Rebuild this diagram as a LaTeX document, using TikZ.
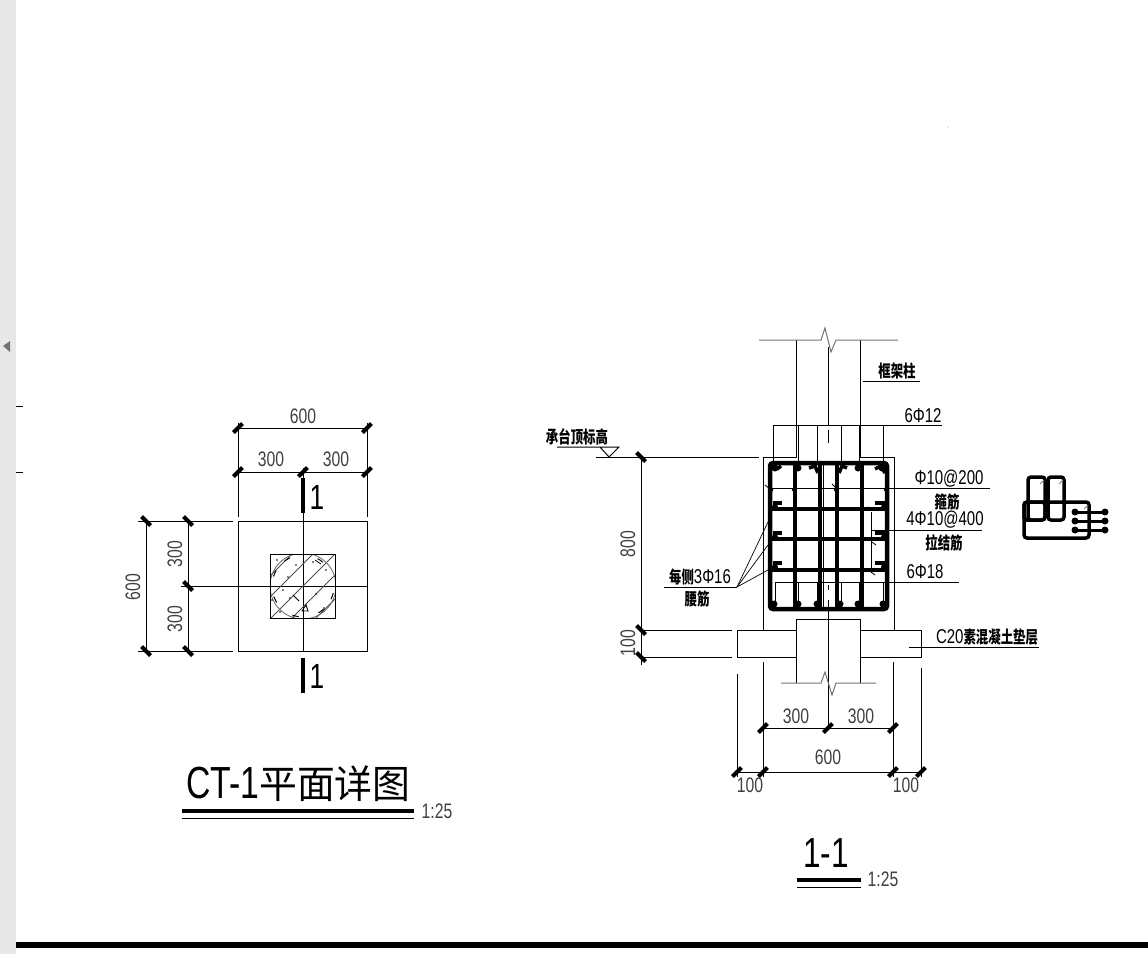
\documentclass[tikz,border=0pt]{standalone}
\usepackage{fontspec}
\setmainfont{Liberation Sans}[FakeStretch=0.75]
\newfontfamily\cjk{Noto Sans CJK SC}[FakeStretch=0.73]
\newfontfamily\cjktitle{Noto Sans CJK SC}[FakeStretch=0.97]
\newcommand{\dimfont}{\fontsize{21}{21}\selectfont}
\newcommand{\notefont}{\fontsize{20}{20}\selectfont}
\newcommand{\cjkfont}{\fontsize{17}{17}\selectfont\cjk\bfseries}
\newcommand{\markfont}{\fontsize{35}{35}\selectfont}
\newcommand{\titlefont}{\fontsize{45}{45}\selectfont}
\newcommand{\cjksize}{\fontsize{39}{39}\selectfont\cjktitle}

\begin{document}
\begin{tikzpicture}[
      x=1pt,y=-1pt,
      every node/.style={inner sep=0pt},
      thinline/.style={line width=1pt},
      graybreak/.style={line width=1pt,draw=black!55},
      hatchline/.style={line width=1pt,draw=black!70},
      xtick/.style={line width=4pt},
      ytick/.style={line width=4pt},
      rebar/.style={line width=4.5pt,rounded corners=3pt},
      sketchbar/.style={line width=3.5pt,rounded corners=3pt},
      vbar/.style={line width=4pt},
      hbar/.style={line width=3.5pt},
      hookbar/.style={line width=3.5pt},
      cutbar/.style={line width=4.5pt},
      dimlabel/.style={font=\dimfont,text=black!75},
      notelabel/.style={font=\notefont},
      cjklabel/.style={font=\cjkfont},
      marklabel/.style={font=\markfont}
      ]
      \useasboundingbox (0,0) rectangle (1148,954);

      %window edge
      \fill[black!9] (0,0) rectangle (16,954);
      \fill[black!55] (3,346) -- (10,341) -- (10,352) -- cycle;
      \draw[thinline] (16,406) -- (23,406);
      \draw[thinline] (16,472) -- (23,472);
      \fill[black] (16,942) rectangle (1148,948);
      \fill[black!60] (948,127) circle (.5pt);

      %plan outline
      \coordinate (plancentre) at (303,586);
      \draw[thinline] (238,521) rectangle (367,651);
      \draw[thinline] (181,586) -- (367,586);
      \draw[thinline] (303,468) -- (303,651);

      %plan column
      \begin{scope}
        \clip (270,554) rectangle (335,618);
        \foreach \d in {-43,-22,0,21,45}
          \draw[hatchline] (270,889-270+\d) -- (335,889-335+\d);
        \draw[line width=.8pt,draw=black!60] (plancentre) circle (33pt);
        \foreach \a in {50,115,150,200,250,300,335}
          \draw[line width=1pt] (plancentre) ++(\a:31pt) arc[start angle=\a,delta angle=12,radius=31pt];
        \foreach \px/\py in {277/560,288/577,296/565,313/562,326/570,280/612,290/598,316/594,324/608,283/590,306/606,272/600}
          \fill (\px,\py) circle (.8pt);
        \draw[line width=.8pt] (293,595) -- (299,601);
        \draw[line width=.8pt] (315,560) -- (321,564);
        \draw[line width=.8pt] (302,611) -- (306,605) -- (308,611) -- cycle;
      \end{scope}
      \draw[thinline] (270,554) rectangle (335,618);

      %plan dimensions
      \draw[thinline] (238,423) -- (238,517);
      \draw[thinline] (367,423) -- (367,517);
      \draw[thinline] (238,428) -- (367,428);
      \draw[thinline] (238,472) -- (367,472);
      \draw[thinline] (138,521) -- (233,521);
      \draw[thinline] (138,651) -- (233,651);
      \draw[thinline] (146,521) -- (146,651);
      \draw[thinline] (188,521) -- (188,651);
      \foreach \x/\y in {238/428,367/428,238/472,303/472,367/472}
        \draw[xtick] (\x,\y) ++(-4.5,4.5) -- ++(9,-9);
      \foreach \x/\y in {146/521,188/521,188/586,146/651,188/651}
        \draw[ytick] (\x,\y) ++(-4.5,-4.5) -- ++(9,9);
      \node[dimlabel] (planwidth) at (303,416) {600};
      \node[dimlabel] (planwidthleft) at (271,459) {300};
      \node[dimlabel] (planwidthright) at (336,459) {300};
      \node[dimlabel,rotate=90] (planheight) at (133,587) {600};
      \node[dimlabel,rotate=90] (planheighttop) at (175,554) {300};
      \node[dimlabel,rotate=90] (planheightbottom) at (175,619) {300};

      %cut marks
      \draw[cutbar] (303,478) -- (303,513);
      \draw[cutbar] (303,658) -- (303,693);
      \node[marklabel] (cuttop) at (317,497) {1};
      \node[marklabel] (cutbottom) at (317,676) {1};

      %plan title
      \node[font=\titlefont,anchor=base west] (plantitle) at (186,798) {CT-1{\cjksize 平面详图}};
      \draw[line width=3.5pt] (182,811) -- (414,811);
      \draw[thinline] (182,818) -- (414,818);
      \node[dimlabel] (planscale) at (437,811) {1:25};

      %section outline
      \draw[thinline] (796,340) -- (796,457) -- (763,457) -- (763,630);
      \draw[thinline] (860,340) -- (860,457) -- (894,457) -- (894,630);
      \draw[thinline] (828,347) -- (828,425);
      \draw[thinline] (828,430) -- (828,443);
      \draw[thinline] (828,585) -- (828,590);
      \draw[thinline] (828,600) -- (828,728);
      \draw[graybreak] (759,340) -- (821,340) -- (825,328) -- (831,352) -- (836,340) -- (898,340);

      %pad and lower column
      \draw[thinline] (796,630) -- (737,630) -- (737,657) -- (796,657);
      \draw[thinline] (860,630) -- (921,630) -- (921,657) -- (860,657);
      \draw[thinline] (796,683) -- (796,619) -- (860,619) -- (860,683);
      \draw[graybreak] (781,683) -- (821,683) -- (825,672) -- (832,695) -- (836,683) -- (876,683);

      %top and bottom anchor bars
      \draw[thinline] (773,425) -- (942,425);
      \foreach \x in {773,798,817,841,859,883}
        \draw[thinline] (\x,425) -- (\x,463);
      \draw[thinline] (775,582) -- (959,582);
      \foreach \x in {775,798,817,841,859,883}
        \draw[thinline] (\x,582) -- (\x,609);

      %cage
      \foreach \x in {795,820,837,862}
        \draw[vbar] (\x,463) -- (\x,609);
      \foreach \y in {509,539,570}
        \draw[hbar] (770,\y) -- (887,\y);
      \draw[rebar] (770,463) rectangle (887,609);
      \foreach \x in {823,835}
        \draw[line width=.8pt] (\x,463) -- (\x,609);

      %bars and hooks
      \foreach \x in {774,798,817,840,858,883}
        \fill (\x,604) circle (3.5pt);
      \foreach \x in {775,798,858,882}
        \fill (\x,468) circle (3.5pt);
      \draw[hookbar] (809,468) -- (815,466) -- (818,473);
      \draw[hookbar] (847,468) -- (842,466) -- (839,473);
      \draw[hookbar] (875,469) -- (881,466) -- (885,473);
      \draw[hookbar] (777,469) -- (781,466);
      \foreach \y in {503,533,563} {
        \draw[hookbar] (773,\y) -- (782,\y);
        \draw[hookbar] (875,\y) -- (887,\y);
        \fill (775,\y+4) circle (3pt);
        \fill (884,\y+4) circle (3pt);
      }

      %section leaders
      \draw[thinline] (772,488) -- (990,488);
      \draw[thinline] (871,530) -- (982,530);
      \draw[thinline] (871,512) -- (871,573);
      \foreach \x in {772,793,820,835,862,885}
        \fill (\x,490) circle (1.5pt);
      \draw[line width=.8pt] (765,485) -- (770,489);
      \draw[line width=.8pt] (832,484) -- (837,489);
      \draw[line width=.8pt] (867,507) -- (872,510);
      \draw[line width=.8pt] (872,542) -- (876,545);
      \draw[line width=.8pt] (871,572) -- (875,575);
      \coordinate (waistleader) at (737,587);
      \draw[thinline] (664,587) -- (waistleader);
      \foreach \y in {522,545,570}
        \draw[line width=.7pt] (waistleader) -- (768,\y);
      \draw[thinline] (863,381) -- (920,381);
      \draw[thinline] (909,647) -- (1039,647);

      %elevation mark
      \draw[thinline] (557,447) -- (619,447) -- (609,457) -- (600,447);
      \draw[thinline] (596,457) -- (759,457);

      %section dimensions
      \draw[thinline] (641,457) -- (641,665);
      \draw[thinline] (641,630) -- (732,630);
      \draw[thinline] (641,657) -- (732,657);
      \draw[thinline] (737,674) -- (737,777);
      \draw[thinline] (763,662) -- (763,777);
      \draw[thinline] (893,662) -- (893,777);
      \draw[thinline] (921,668) -- (921,777);
      \draw[thinline] (763,728) -- (893,728);
      \draw[thinline] (737,772) -- (921,772);
      \foreach \y in {457,630,657}
        \draw[ytick] (641,\y) ++(-4.5,-4.5) -- ++(9,9);
      \foreach \x/\y in {763/728,828/728,893/728,737/772,763/772,893/772,921/772}
        \draw[xtick] (\x,\y) ++(-4.5,4.5) -- ++(9,-9);
      \node[dimlabel,rotate=90] (sectionheight) at (628,544) {800};
      \node[dimlabel,rotate=90] (padheight) at (628,643) {100};
      \node[dimlabel] (sectionleft) at (796,716) {300};
      \node[dimlabel] (sectionright) at (861,716) {300};
      \node[dimlabel] (sectionwidth) at (828,757) {600};
      \node[dimlabel] (padleft) at (750,785) {100};
      \node[dimlabel] (padright) at (906,785) {100};

      %section notes
      \node[cjklabel] (columnnote) at (897,371) {框架柱};
      \node[notelabel] (topbars) at (923,416) {6Φ12};
      \node[cjklabel] (capnote) at (577,437) {承台顶标高};
      \node[notelabel] (stirrup) at (949,479) {Φ10@200};
      \node[cjklabel] (stirrupnote) at (947,502) {箍筋};
      \node[notelabel] (tiebar) at (945,520) {4Φ10@400};
      \node[cjklabel] (tienote) at (944,543) {拉结筋};
      \node[notelabel] (bottombars) at (925,572) {6Φ18};
      \node[notelabel] (waistbars) at (700,577) {{\cjkfont 每侧}3Φ16};
      \node[cjklabel] (waistnote) at (697,599) {腰筋};
      \node[notelabel] (padnote) at (987,637) {C20{\cjkfont 素混凝土垫层}};

      %section title
      \node[font=\fontsize{42}{42}\selectfont,anchor=base] (sectiontitle) at (826,867) {1-1};
      \draw[line width=3.5pt] (797,880) -- (861,880);
      \draw[thinline] (797,887) -- (861,887);
      \node[dimlabel] (sectionscale) at (883,879) {1:25};

      %small stirrup sketch
      \draw[sketchbar] (1024,502) rectangle (1089,538);
      \draw[sketchbar] (1024,502) rectangle (1045,520);
      \draw[sketchbar] (1028,477) rectangle (1045,520);
      \draw[sketchbar] (1048,477) rectangle (1064,520);
      \foreach \y in {512,521,530} {
        \draw[line width=3pt] (1073,\y) -- (1107,\y);
        \fill (1075,\y) circle (3.5pt);
        \fill (1105,\y) circle (3.5pt);
      }
      \foreach \x/\y in {1040/484,1059/484,1084/509}
        \draw[line width=1pt,draw=black!50] (\x,\y) -- ++(4,-4);
    \end{tikzpicture}
\end{document}
